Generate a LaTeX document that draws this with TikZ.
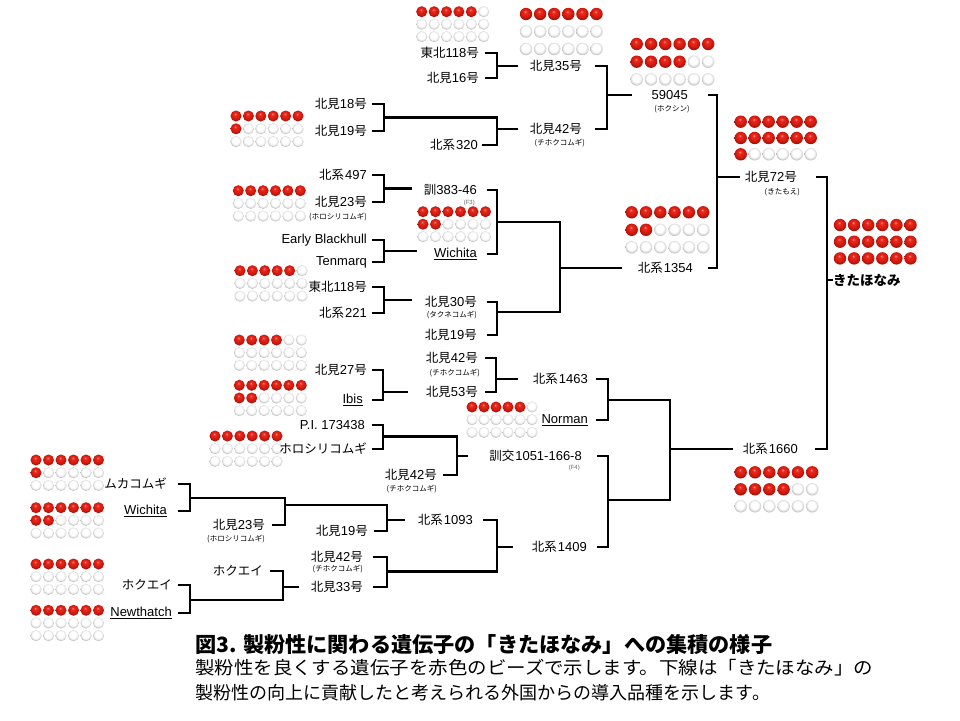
\documentclass[tikz,border=0pt]{standalone}
\usepackage{fontspec}
\setmainfont{Liberation Sans}
\newfontfamily\jp{Noto Sans CJK JP}
\usetikzlibrary{calc}
\definecolor{beadred}{RGB}{228,28,16}
\pgfdeclareradialshading{redbead}{\pgfpoint{-4bp}{10bp}}{color(0bp)=(white!60!beadred); color(5bp)=(beadred!92!white); color(14bp)=(beadred); color(22bp)=(beadred!85!black); color(25bp)=(beadred!72!black); color(50bp)=(beadred!72!black)}
\pgfdeclareradialshading{whitebead}{\pgfpoint{-3bp}{7bp}}{color(0bp)=(white); color(15bp)=(white); color(22bp)=(black!12); color(25bp)=(black!26); color(50bp)=(black!26)}
\newcommand\J[1]{{\jp\fontsize{12.5}{15}\selectfont #1}}
\newcommand\KM[1]{\J{北見}#1\J{号}}
\newcommand\HK[1]{\J{北系}\kern1pt#1}
\newcommand\beadgrid[6]{%
  \foreach \rr in {0,1,2}{%
    \foreach \cc in {0,...,5}{%
      \pgfmathtruncatemacro\bidx{\rr*6+\cc}%
      \ifnum\bidx<#6\relax
        \shade[shading=redbead] ({#1+\cc*#3},{#2+\rr*#4}) circle[radius=#5pt];
      \else
        \shade[shading=whitebead] ({#1+\cc*#3},{#2+\rr*#4}) circle[radius=#5pt];
      \fi}}}
\begin{document}
\begin{tikzpicture}[x=1pt,y=-1pt,
  lab/.style={anchor=east, inner sep=0pt, font=\fontsize{13}{15}\selectfont},
  sub/.style={anchor=east, inner sep=0pt, font=\jp\fontsize{7.5}{8}\selectfont},
  fsub/.style={anchor=east, inner sep=0pt, text=black!60, font=\fontsize{6}{7}\selectfont},
  br/.style={line width=2.8pt, line join=miter, line cap=butt}]
\useasboundingbox (0,0) rectangle (960,720);
\fill[white] (0,0) rectangle (960,720);

% ---- beads ----
\beadgrid{421.7}{11.7}{12.4}{12.5}{5.5}{5}
\beadgrid{526}{14}{14.1}{17.5}{6.2}{6}
\beadgrid{636.7}{44}{14.3}{17.7}{6.2}{10}
\beadgrid{236}{116}{12.4}{12.8}{5.5}{7}
\beadgrid{238.3}{190.7}{12.4}{12.7}{5.5}{6}
\beadgrid{423}{211.7}{12.5}{12.5}{5.5}{8}
\beadgrid{240}{270.7}{12.4}{12.7}{5.5}{5}
\beadgrid{740.7}{121.7}{14}{16.3}{6.2}{13}
\beadgrid{631.7}{212.3}{14.3}{17.5}{6.2}{8}
\beadgrid{840}{225}{14.1}{16.7}{6.2}{18}
\beadgrid{239.3}{340}{12.4}{12.7}{5.5}{4}
\beadgrid{239.3}{385.3}{12.4}{12.7}{5.5}{8}
\beadgrid{215}{436}{12.4}{12.7}{5.5}{6}
\beadgrid{472}{407}{12}{12.7}{5.5}{5}
\beadgrid{740.7}{472.3}{14.3}{17}{6.2}{10}
\beadgrid{36}{460}{12.5}{12.7}{5.5}{7}
\beadgrid{36}{507.7}{12.5}{12.7}{5.5}{8}
\beadgrid{36}{564}{12.5}{12.7}{5.5}{6}
\beadgrid{36}{610.3}{12.5}{12.7}{5.5}{6}

% ---- labels ----
\node[lab] (t118a) at (479,53) {\J{東北}118\J{号}};
\node[lab] (k16) at (479,78) {\KM{16}};
\node[lab] (k35) at (582,66) {\KM{35}};
\node[lab] (k18) at (367,104) {\KM{18}};
\node[lab] (k19a) at (367,131) {\KM{19}};
\node[lab] (h320) at (478,145) {\HK{320}};
\node[lab] (k42a) at (582,129) {\KM{42}};
\node[sub] (k42as) at (585,143) {(チホクコムギ)};
\node[lab] (n59045) at (688,95) {59045};
\node[sub, anchor=center] (n59045s) at (672,109) {(ホクシン)};
\node[lab] (h497) at (367,175) {\HK{497}};
\node[lab] (k23a) at (367,202) {\KM{23}};
\node[sub] (k23as) at (367,217) {(ホロシリコムギ)};
\node[lab] (kun383) at (477,190) {\J{訓}383-46};
\node[fsub] (f3) at (475,203) {(F3)};
\node[lab] (eb) at (367,240) {Early Blackhull};
\node[lab] (tm) at (367,262) {Tenmarq};
\node[lab] (wa) at (477,254) {\underline{Wichita}};
\node[lab] (t118b) at (367,287) {\J{東北}118\J{号}};
\node[lab] (h221) at (367,313) {\HK{221}};
\node[lab] (k30) at (477,302) {\KM{30}};
\node[sub] (k30s) at (477,315) {(タクネコムギ)};
\node[lab] (k19b) at (477,335) {\KM{19}};
\node[lab] (h1354) at (693,268) {\HK{1354}};
\node[lab] (k72) at (797,177) {\KM{72}};
\node[sub] (k72s) at (800,192) {(きたもえ)};
\node[anchor=west, inner sep=0pt, font=\jp\bfseries\fontsize{13.5}{15}\selectfont] (kita) at (833,280) {きたほなみ};
\node[lab] (k42b) at (478,358) {\KM{42}};
\node[sub] (k42bs) at (480,373) {(チホクコムギ)};
\node[lab] (k27) at (367,370) {\KM{27}};
\node[lab] (ibis) at (363,400) {\underline{Ibis}};
\node[lab] (k53) at (478,392) {\KM{53}};
\node[lab] (h1463) at (588,379) {\HK{1463}};
\node[lab] (norman) at (588,420) {\underline{Norman}};
\node[lab] (pi) at (365,425) {P.I. 173438};
\node[lab] (horo) at (367,449) {\J{ホロシリコムギ}};
\node[lab] (k42c) at (437,475) {\KM{42}};
\node[sub] (k42cs) at (437,489) {(チホクコムギ)};
\node[lab] (kun1051) at (582,456) {\J{訓交}\kern1pt 1051-166-8};
\node[fsub] (f4) at (580,468) {(F4)};
\node[lab] (h1660) at (798,449) {\HK{1660}};
\node[lab] (muka) at (167,484) {\J{ムカコムギ}};
\node[lab] (wb) at (167,511) {\underline{Wichita}};
\node[lab] (k23b) at (265,525) {\KM{23}};
\node[sub] (k23bs) at (265,539) {(ホロシリコムギ)};
\node[lab] (k19c) at (368,531) {\KM{19}};
\node[lab] (h1093) at (473,520) {\HK{1093}};
\node[lab] (k42d) at (363,557) {\KM{42}};
\node[sub] (k42ds) at (363,569) {(チホクコムギ)};
\node[lab] (hokb) at (263,571) {\J{ホクエイ}};
\node[lab] (k33) at (363,587) {\KM{33}};
\node[lab] (hoka) at (172,585) {\J{ホクエイ}};
\node[lab] (newt) at (172,613) {\underline{Newthatch}};
\node[lab] (h1409) at (587,547) {\HK{1409}};

% ---- connectors ----
\coordinate (vA) at (497,78);
\draw[br] ([xshift=6]t118a.east) -| (vA) -- ([xshift=6]k16.east);
\draw[br] (vA |- k35.west) -- ++(21,0);

\coordinate (vB) at (384,131);
\draw[br] ([xshift=5]k18.east) -| (vB) -- ([xshift=5]k19a.east);
\coordinate (mB) at (384,117.5);
\coordinate (vB2) at (497,145);
\draw[br] (mB) -| (vB2) -- ([xshift=4]h320.east);
\draw[br] (vB2 |- k42a.west) -- ++(21,0);

\coordinate (vC) at (607,129);
\draw[br] ([xshift=13]k35.east) -| (vC) -- ([xshift=13]k42a.east);
\draw[br] (vC |- n59045.west) -- ++(25,0);

\coordinate (vD) at (717,268);
\draw[br] ([xshift=20]n59045.east) -| (vD) -- ([xshift=15]h1354.east);
\draw[br] (vD |- k72.west) -- ++(23,0);

\coordinate (vE) at (827,449);
\draw[br] ([xshift=19]k72.east) -| (vE) -- ([xshift=17]h1660.east);
\draw[br] (vE |- kita.west) -- (kita.west);

\coordinate (vF) at (384,202);
\draw[br] ([xshift=5]h497.east) -| (vF) -- ([xshift=5]k23a.east);
\coordinate (mF) at (384,188.5);
\draw[br] (mF) -- ++(28,0);

\coordinate (vG) at (384,262);
\draw[br] ([xshift=5]eb.east) -| (vG) -- ([xshift=5]tm.east);
\coordinate (mG) at (384,251);
\draw[br] (mG) -- ++(33,0);

\coordinate (vH) at (497,254);
\draw[br] ([xshift=10]kun383.east) -| (vH) -- ([xshift=10]wa.east);
\coordinate (vJ) at (497,335);
\draw[br] ([xshift=10]k30.east) -| (vJ) -- ([xshift=10]k19b.east);
\coordinate (mH) at (497,222);
\coordinate (mJ) at (497,312);
\coordinate (vH2) at (560,312);
\draw[br] (mH) -| (vH2) -- (mJ);
\draw[br] (vH2 |- h1354.west) -- ++(62,0);

\coordinate (vI) at (384,313);
\draw[br] ([xshift=5]t118b.east) -| (vI) -- ([xshift=5]h221.east);
\coordinate (mI) at (384,300);
\draw[br] (mI) -- ++(28,0);

\coordinate (vK) at (383,400);
\draw[br] ([xshift=5]k27.east) -| (vK) -- ([xshift=9]ibis.east);
\draw[br] (vK |- k53.west) -- ++(25,0);

\coordinate (vL) at (496,392);
\draw[br] ([xshift=7]k42b.east) -| (vL) -- ([xshift=7]k53.east);
\draw[br] (vL |- h1463.west) -- ++(22,0);

\coordinate (vM) at (608,420);
\draw[br] ([xshift=8]h1463.east) -| (vM) -- ([xshift=8]norman.east);
\coordinate (vO) at (608,547);
\draw[br] ([xshift=15]kun1051.east) -| (vO) -- ([xshift=10]h1409.east);
\coordinate (mM) at (608,400);
\coordinate (mO) at (608,500);
\coordinate (vM2) at (670,500);
\draw[br] (mM) -| (vM2) -- (mO);
\draw[br] (vM2 |- h1660.west) -- ++(63,0);

\coordinate (vN) at (383,449);
\draw[br] ([xshift=7]pi.east) -| (vN) -- ([xshift=5]horo.east);
\coordinate (mN) at (383,436.5);
\coordinate (vN2) at (457,475);
\draw[br] (mN) -| (vN2) -- ([xshift=6]k42c.east);
\draw[br] (vN2 |- kun1051.west) -- ++(11,0);

\coordinate (vP) at (190,511);
\draw[br] ([xshift=11]muka.east) -| (vP) -- ([xshift=11]wb.east);
\coordinate (mP) at (190,498);
\coordinate (vP2) at (285,525);
\draw[br] (mP) -| (vP2) -- ([xshift=7]k23b.east);
\coordinate (mP2) at (285,505);
\coordinate (vP3) at (387,531);
\draw[br] (mP2) -| (vP3) -- ([xshift=6]k19c.east);
\draw[br] (vP3 |- h1093.west) -- ++(18,0);

\coordinate (vQ) at (387,587);
\draw[br] ([xshift=10]k42d.east) -| (vQ) -- ([xshift=10]k33.east);
\coordinate (mQ) at (387,571.5);
\coordinate (vQ2) at (497,571.5);
\draw[br] ([xshift=10]h1093.east) -| (vQ2) -- (mQ);
\draw[br] (vQ2 |- h1409.west) -- ++(16,0);

\coordinate (vR) at (190,613);
\draw[br] ([xshift=6]hoka.east) -| (vR) -- ([xshift=6]newt.east);
\coordinate (mR) at (190,600);
\coordinate (vR2) at (283,600);
\draw[br] ([xshift=7]hokb.east) -| (vR2) -- (mR);
\draw[br] (vR2 |- k33.west) -- ++(16,0);

% ---- caption ----
\node[anchor=west, inner sep=0pt, font=\jp\bfseries\fontsize{21}{24}\selectfont] (title) at (195,645)
  {\resizebox{577pt}{\height}{図3. 製粉性に関わる遺伝子の「きたほなみ」への集積の様子}};
\node[anchor=west, inner sep=0pt, font=\jp\fontsize{18}{20}\selectfont] (cap1) at (195,668)
  {\resizebox{678pt}{\height}{製粉性を良くする遺伝子を赤色のビーズで示します。下線は「きたほなみ」の}};
\node[anchor=west, inner sep=0pt, font=\jp\fontsize{18}{20}\selectfont] (cap2) at (195,692.7)
  {\resizebox{575pt}{\height}{製粉性の向上に貢献したと考えられる外国からの導入品種を示します。}};
\end{tikzpicture}
\end{document}
